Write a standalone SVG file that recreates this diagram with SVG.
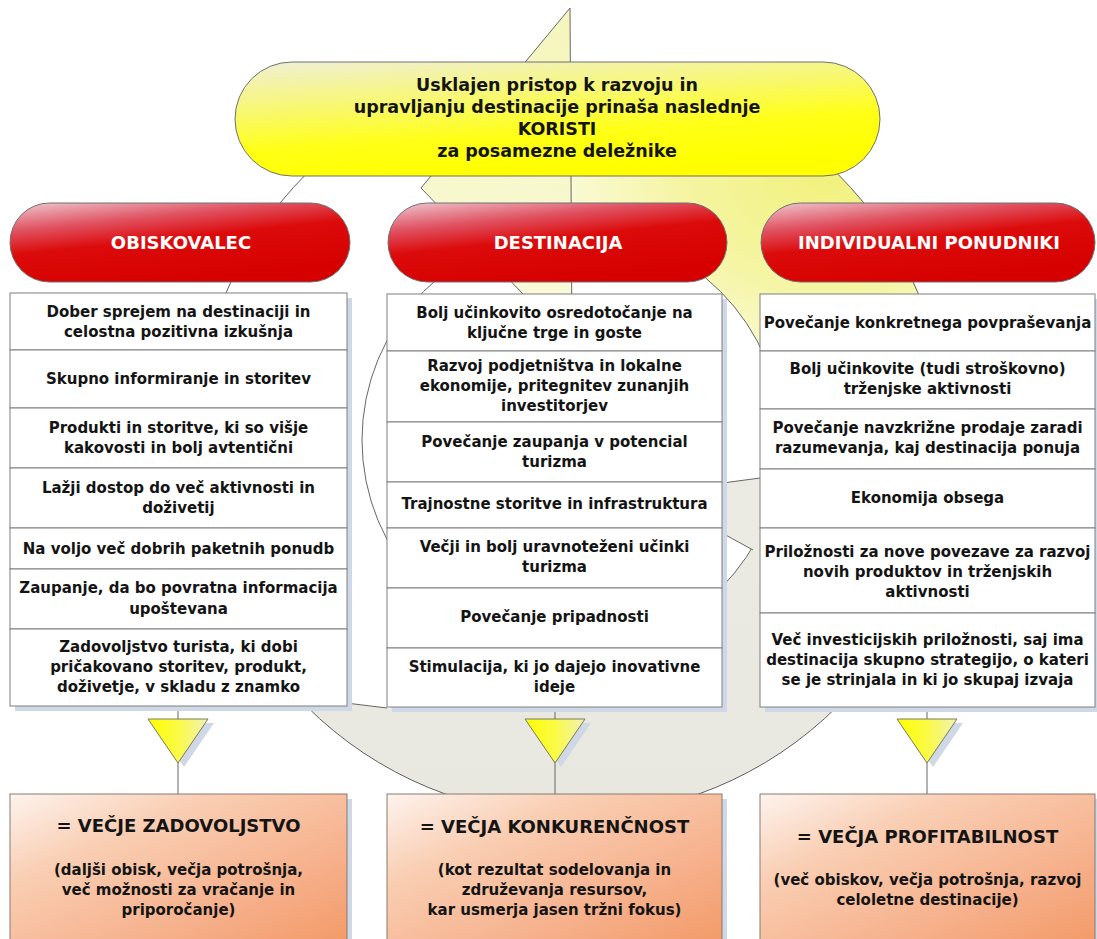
<svg xmlns="http://www.w3.org/2000/svg" width="1097" height="939" viewBox="0 0 1097 939">
<defs>
  <style>
    .edge{fill:none;stroke:#666;stroke-width:1}
    .box{fill:#fff;stroke:#7f7f7f;stroke-width:1}
    .shadow{fill:#cfd8e7}
    .t{font-family:"DejaVu Sans",Verdana,sans-serif;font-weight:bold;font-size:15px;text-anchor:middle;fill:#141414}
    .hub{font-family:"DejaVu Sans",Verdana,sans-serif;font-weight:bold;font-size:17.5px;text-anchor:middle;fill:#141414}
    .cap{font-family:"DejaVu Sans",Verdana,sans-serif;font-weight:bold;font-size:18px;text-anchor:middle;fill:#ffffff}
    .res{font-family:"DejaVu Sans",Verdana,sans-serif;font-weight:bold;font-size:18px;text-anchor:middle;fill:#141414}
    .pill{stroke:#707070;stroke-width:1}
    .link{stroke:#666;stroke-width:1;fill:none}
  </style>
  <!-- disc: white on top, warm grey below -->
  <linearGradient id="gDisc" gradientUnits="userSpaceOnUse" x1="0" y1="64" x2="0" y2="816">
    <stop offset="0" stop-color="#ffffff"/>
    <stop offset="0.5" stop-color="#ffffff"/>
    <stop offset="0.553" stop-color="#ebebe3"/>
    <stop offset="1" stop-color="#e8e8e0"/>
  </linearGradient>
  <!-- yellow glow on the upper right of the disc -->
  <radialGradient id="gGlow" gradientUnits="userSpaceOnUse" cx="0" cy="0" r="1" gradientTransform="translate(830,170) scale(340,260)">
    <stop offset="0" stop-color="#f1f17c" stop-opacity="1"/>
    <stop offset="0.45" stop-color="#f5f5a4" stop-opacity="1"/>
    <stop offset="0.75" stop-color="#f9f9cc" stop-opacity="0.9"/>
    <stop offset="1" stop-color="#ffffff" stop-opacity="0"/>
  </radialGradient>
  <linearGradient id="gSpike" gradientUnits="userSpaceOnUse" x1="570" y1="8" x2="520" y2="340">
    <stop offset="0" stop-color="#f5f5bc"/>
    <stop offset="1" stop-color="#fafadc"/>
  </linearGradient>
  <linearGradient id="gHub" x1="0" y1="0" x2="0.35" y2="1">
    <stop offset="0" stop-color="#efefd8"/>
    <stop offset="0.4" stop-color="#f8f870"/>
    <stop offset="0.7" stop-color="#ffff18"/>
    <stop offset="1" stop-color="#ffff00"/>
  </linearGradient>
  <linearGradient id="gRed" x1="0" y1="0" x2="0.45" y2="1">
    <stop offset="0" stop-color="#eecad2"/>
    <stop offset="0.3" stop-color="#e05262"/>
    <stop offset="0.55" stop-color="#dc0b0b"/>
    <stop offset="1" stop-color="#d60000"/>
  </linearGradient>
  <linearGradient id="gResult" x1="0" y1="0" x2="1" y2="1">
    <stop offset="0" stop-color="#fdf3ee"/>
    <stop offset="0.3" stop-color="#f9ceb3"/>
    <stop offset="0.7" stop-color="#f6b08b"/>
    <stop offset="1" stop-color="#f39a68"/>
  </linearGradient>
  <linearGradient id="gFunnel" x1="0" y1="0" x2="1" y2="0">
    <stop offset="0" stop-color="#ffff00"/>
    <stop offset="0.5" stop-color="#fafa45"/>
    <stop offset="1" stop-color="#f2f2b4"/>
  </linearGradient>
</defs>

<rect width="1097" height="939" fill="#ffffff"/>

<!-- backdrop: outer disc, inner disc and the pointer spike -->
<g id="backdrop">
  <circle cx="572" cy="440" r="376" fill="url(#gDisc)"/>
  <circle cx="572" cy="440" r="376" fill="url(#gGlow)" stroke="#5f5f5f" stroke-width="1"/>
  <polygon points="345,282 390,282 390,708.5 345,702.9" fill="#ffffff"/>
  <line x1="346" y1="703" x2="387" y2="708" class="edge"/>
  <circle cx="572" cy="440" r="210" fill="#ffffff" stroke="#666" stroke-width="1"/>
  <polygon points="715,484.1 765,477.2 765,556.6 753,550 715,529.2" fill="#ebebe3"/>
  <line x1="722" y1="483.1" x2="760" y2="478" class="edge"/>
  <line x1="722" y1="533" x2="753" y2="550" class="edge"/>
  <polygon points="570,8 421,188 572,345" fill="url(#gSpike)" stroke="#666" stroke-width="1"/>
</g>

<!-- connectors from benefit columns through funnels to results -->
<g id="connectors">
  <line x1="178" y1="706" x2="178" y2="794" class="link"/>
  <line x1="555" y1="707" x2="555" y2="794" class="link"/>
  <line x1="927" y1="707" x2="927" y2="794" class="link"/>
</g>

<!-- central statement -->
<g id="hub">
  <rect x="235" y="62" width="645" height="114" rx="57" fill="url(#gHub)" class="pill"/>
  <text class="hub" x="557" y="91">Usklajen pristop k razvoju in</text>
  <text class="hub" x="557" y="113">upravljanju destinacije prinaša naslednje</text>
  <text class="hub" x="557" y="135">KORISTI</text>
  <text class="hub" x="557" y="157">za posamezne deležnike</text>
</g>

<!-- stakeholder headers -->
<g id="head-visitor">
  <rect x="10" y="203" width="340" height="79" rx="39.5" fill="url(#gRed)" class="pill"/>
  <text class="cap" x="181" y="248.5">OBISKOVALEC</text>
</g>
<g id="head-destination">
  <rect x="388" y="203" width="339" height="79" rx="39.5" fill="url(#gRed)" class="pill"/>
  <text class="cap" x="558" y="248.5">DESTINACIJA</text>
</g>
<g id="head-providers">
  <rect x="761" y="203" width="334" height="79" rx="39.5" fill="url(#gRed)" class="pill"/>
  <text class="cap" x="929" y="248.5">INDIVIDUALNI PONUDNIKI</text>
</g>

<!-- benefit lists -->
<g id="list-visitor">
  <rect class="shadow" x="15" y="298" width="337" height="413"/>
  <rect class="box" x="10" y="293" width="337" height="57"/>
  <rect class="box" x="10" y="350" width="337" height="58"/>
  <rect class="box" x="10" y="408" width="337" height="60"/>
  <rect class="box" x="10" y="468" width="337" height="60"/>
  <rect class="box" x="10" y="528" width="337" height="41"/>
  <rect class="box" x="10" y="569" width="337" height="60"/>
  <rect class="box" x="10" y="629" width="337" height="77"/>
  <text class="t" x="178.5" y="317">Dober sprejem na destinaciji in</text>
  <text class="t" x="178.5" y="337">celostna pozitivna izkušnja</text>
  <text class="t" x="178.5" y="384">Skupno informiranje in storitev</text>
  <text class="t" x="178.5" y="433">Produkti in storitve, ki so višje</text>
  <text class="t" x="178.5" y="453">kakovosti in bolj avtentični</text>
  <text class="t" x="178.5" y="493">Lažji dostop do več aktivnosti in</text>
  <text class="t" x="178.5" y="513">doživetij</text>
  <text class="t" x="178.5" y="554">Na voljo več dobrih paketnih ponudb</text>
  <text class="t" x="178.5" y="593">Zaupanje, da bo povratna informacija</text>
  <text class="t" x="178.5" y="614">upoštevana</text>
  <text class="t" x="178.5" y="652">Zadovoljstvo turista, ki dobi</text>
  <text class="t" x="178.5" y="672">pričakovano storitev, produkt,</text>
  <text class="t" x="178.5" y="692">doživetje, v skladu z znamko</text>
</g>

<g id="list-destination">
  <rect class="shadow" x="392" y="299" width="335" height="413"/>
  <rect class="box" x="387" y="294" width="335" height="57"/>
  <rect class="box" x="387" y="351" width="335" height="71"/>
  <rect class="box" x="387" y="422" width="335" height="60"/>
  <rect class="box" x="387" y="482" width="335" height="46"/>
  <rect class="box" x="387" y="528" width="335" height="60"/>
  <rect class="box" x="387" y="588" width="335" height="60"/>
  <rect class="box" x="387" y="648" width="335" height="59"/>
  <text class="t" x="554.5" y="318">Bolj učinkovito osredotočanje na</text>
  <text class="t" x="554.5" y="338">ključne trge in goste</text>
  <text class="t" x="554.5" y="371">Razvoj podjetništva in lokalne</text>
  <text class="t" x="554.5" y="391">ekonomije, pritegnitev zunanjih</text>
  <text class="t" x="554.5" y="411">investitorjev</text>
  <text class="t" x="554.5" y="447">Povečanje zaupanja v potencial</text>
  <text class="t" x="554.5" y="467">turizma</text>
  <text class="t" x="554.5" y="509">Trajnostne storitve in infrastruktura</text>
  <text class="t" x="554.5" y="552">Večji in bolj uravnoteženi učinki</text>
  <text class="t" x="554.5" y="572">turizma</text>
  <text class="t" x="554.5" y="622">Povečanje pripadnosti</text>
  <text class="t" x="554.5" y="672">Stimulacija, ki jo dajejo inovativne</text>
  <text class="t" x="554.5" y="692">ideje</text>
</g>

<g id="list-providers">
  <rect class="shadow" x="765" y="299" width="335" height="413"/>
  <rect class="box" x="760" y="294" width="335" height="57"/>
  <rect class="box" x="760" y="351" width="335" height="58"/>
  <rect class="box" x="760" y="409" width="335" height="60"/>
  <rect class="box" x="760" y="469" width="335" height="59"/>
  <rect class="box" x="760" y="528" width="335" height="85"/>
  <rect class="box" x="760" y="613" width="335" height="94"/>
  <text class="t" x="927.5" y="328">Povečanje konkretnega povpraševanja</text>
  <text class="t" x="927.5" y="374">Bolj učinkovite (tudi stroškovno)</text>
  <text class="t" x="927.5" y="394">trženjske aktivnosti</text>
  <text class="t" x="927.5" y="433">Povečanje navzkrižne prodaje zaradi</text>
  <text class="t" x="927.5" y="453">razumevanja, kaj destinacija ponuja</text>
  <text class="t" x="927.5" y="503">Ekonomija obsega</text>
  <text class="t" x="927.5" y="557">Priložnosti za nove povezave za razvoj</text>
  <text class="t" x="927.5" y="577">novih produktov in trženjskih</text>
  <text class="t" x="927.5" y="597">aktivnosti</text>
  <text class="t" x="927.5" y="645">Več investicijskih priložnosti, saj ima</text>
  <text class="t" x="927.5" y="665">destinacija skupno strategijo, o kateri</text>
  <text class="t" x="927.5" y="685">se je strinjala in ki jo skupaj izvaja</text>
</g>

<!-- funnels -->
<g id="funnel-visitor">
  <polygon class="shadow" points="154,723 214,723 184,767"/>
  <polygon points="148,719 208,719 178,763" fill="url(#gFunnel)" stroke="#7a7a5a" stroke-width="1"/>
</g>
<g id="funnel-destination">
  <polygon class="shadow" points="531,723 591,723 561,767"/>
  <polygon points="525,719 585,719 555,763" fill="url(#gFunnel)" stroke="#7a7a5a" stroke-width="1"/>
</g>
<g id="funnel-providers">
  <polygon class="shadow" points="903,723 963,723 933,767"/>
  <polygon points="897,719 957,719 927,763" fill="url(#gFunnel)" stroke="#7a7a5a" stroke-width="1"/>
</g>

<!-- results -->
<g id="result-visitor">
  <rect class="shadow" x="15" y="799" width="337" height="150"/>
  <rect x="10" y="794" width="337" height="150" fill="url(#gResult)" stroke="#8a7a70" stroke-width="1"/>
  <text class="res" x="178.5" y="832">= VEČJE ZADOVOLJSTVO</text>
  <text class="t" x="178.5" y="875">(daljši obisk, večja potrošnja,</text>
  <text class="t" x="178.5" y="895">več možnosti za vračanje in</text>
  <text class="t" x="178.5" y="915">priporočanje)</text>
</g>
<g id="result-destination">
  <rect class="shadow" x="392" y="799" width="335" height="150"/>
  <rect x="387" y="794" width="335" height="150" fill="url(#gResult)" stroke="#8a7a70" stroke-width="1"/>
  <text class="res" x="554.5" y="833">= VEČJA KONKURENČNOST</text>
  <text class="t" x="554.5" y="875">(kot rezultat sodelovanja in</text>
  <text class="t" x="554.5" y="895">združevanja resursov,</text>
  <text class="t" x="554.5" y="915">kar usmerja jasen tržni fokus)</text>
</g>
<g id="result-providers">
  <rect class="shadow" x="765" y="799" width="335" height="150"/>
  <rect x="760" y="794" width="335" height="150" fill="url(#gResult)" stroke="#8a7a70" stroke-width="1"/>
  <text class="res" x="927.5" y="843">= VEČJA PROFITABILNOST</text>
  <text class="t" x="927.5" y="885">(več obiskov, večja potrošnja, razvoj</text>
  <text class="t" x="927.5" y="905">celoletne destinacije)</text>
</g>
</svg>
